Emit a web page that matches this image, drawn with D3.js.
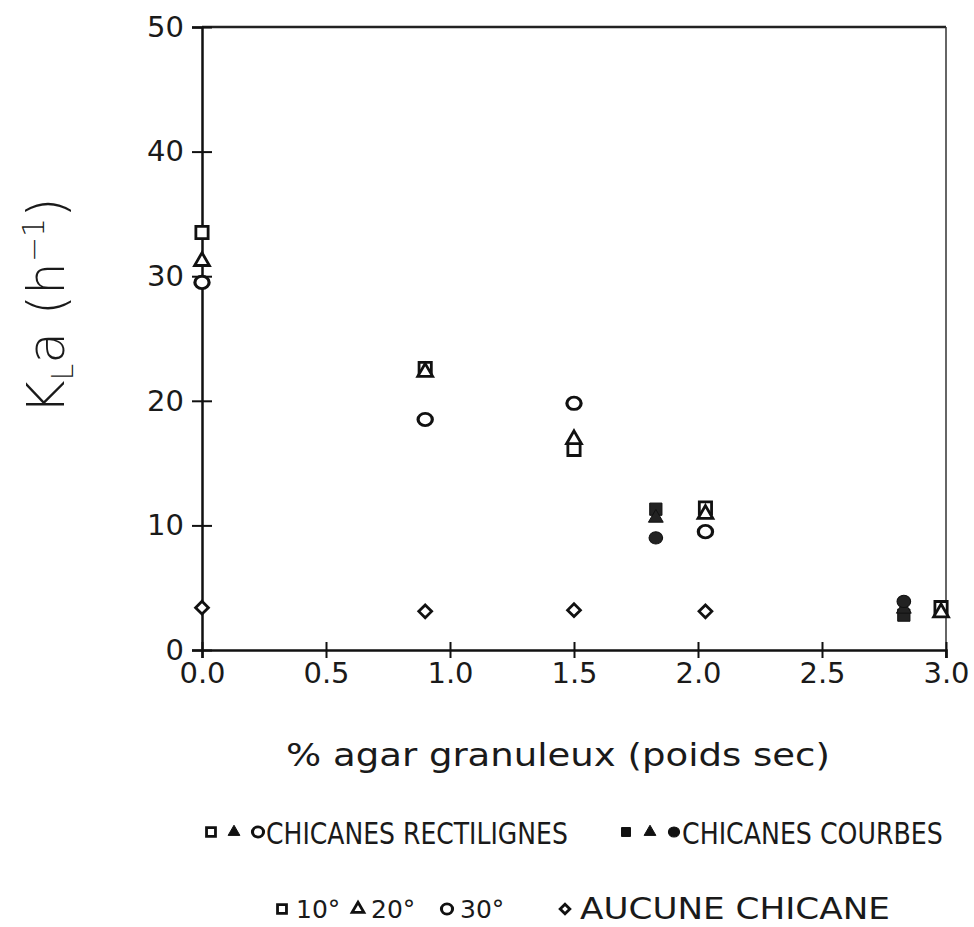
<!DOCTYPE html>
<html><head><meta charset="utf-8">
<script src="https://cdn.jsdelivr.net/npm/d3@7"></script>
<style>
body{margin:0;background:#fff;}
text{font-family:"DejaVu Sans","Liberation Sans",sans-serif;fill:#1a1a1a;}
</style></head>
<body>
<svg id="chart" width="974" height="927"></svg>
<script>
// ---- data ----
const xTicks = [0.0, 0.5, 1.0, 1.5, 2.0, 2.5, 3.0];
const yTicks = [0, 10, 20, 30, 40, 50];
// chicanes rectilignes (open symbols)
const rect10 = [[0, 33.5], [0.90, 22.6], [1.5, 16.1], [2.03, 11.4], [2.98, 3.4]];
const rect20 = [[0, 31.2], [0.90, 22.3], [1.5, 16.9], [2.03, 10.9], [2.98, 3.0]];
const rect30 = [[0, 29.5], [0.90, 18.5], [1.5, 19.8], [2.03, 9.5]];
// chicanes courbes (filled symbols)
const courb10 = [[1.83, 11.3], [2.83, 2.8]];
const courb20 = [[1.83, 10.6], [2.83, 3.3]];
const courb30 = [[1.83, 9.0], [2.83, 3.9]];
// aucune chicane
const aucune = [[0, 3.4], [0.90, 3.1], [1.5, 3.2], [2.03, 3.1]];

const legendRow1 = ["CHICANES RECTILIGNES", "CHICANES COURBES"];
const legendRow2 = ["10°", "20°", "30°", "AUCUNE CHICANE"];

// ---- layout ----
const svg = d3.select("#chart");
const x = d3.scaleLinear().domain([0, 3]).range([202, 946]);
const y = d3.scaleLinear().domain([0, 50]).range([650, 27]);

// frame
const g = svg.append("g");
g.append("line").attr("x1", x(0)).attr("x2", x(3)).attr("y1", y(50)).attr("y2", y(50))
  .attr("stroke", "#222").attr("stroke-width", 2.5);
g.append("line").attr("x1", x(3)).attr("x2", x(3)).attr("y1", y(50)).attr("y2", y(0) + 8)
  .attr("stroke", "#333").attr("stroke-width", 1.5);

const tickFont = 29;
// y axis
const yAxis = svg.append("g").attr("transform", `translate(${x(0)},0)`)
  .call(d3.axisLeft(y).tickValues(yTicks).tickFormat(d3.format("d")).tickSize(10).tickPadding(8));
yAxis.select(".domain").attr("stroke", "#111").attr("stroke-width", 2.5);
yAxis.selectAll(".tick line").attr("x2", -10).attr("x1", 10).attr("stroke", "#111").attr("stroke-width", 2);
yAxis.selectAll(".tick text").attr("font-size", tickFont).attr("fill", "#1a1a1a");

// x axis
const xAxis = svg.append("g").attr("transform", `translate(0,${y(0)})`)
  .call(d3.axisBottom(x).tickValues(xTicks).tickFormat(d3.format(".1f")).tickSize(8).tickPadding(4));
xAxis.select(".domain").attr("stroke", "#111").attr("stroke-width", 2.5);
xAxis.selectAll(".tick line").attr("y1", -8).attr("y2", 8).attr("stroke", "#111").attr("stroke-width", 2);
xAxis.selectAll(".tick text").attr("font-size", tickFont).attr("fill", "#1a1a1a");

// text fitted horizontally to a width by a scale transform
function fitText(xp, yp, s, size, w) {
  const t = svg.append("text").attr("font-size", size).text(s);
  const L = t.node().getComputedTextLength();
  t.attr("transform", `translate(${xp},${yp}) scale(${w / L},1)`);
  return t;
}
function plainText(xp, yp, s, size) {
  return svg.append("text").attr("x", xp).attr("y", yp).attr("font-size", size).text(s);
}

// axis titles
fitText(286, 766, "% agar granuleux (poids sec)", 32, 544);

const yl = svg.append("text").attr("transform", "translate(64,306) rotate(-90)")
  .attr("text-anchor", "middle").attr("font-size", 52).attr("font-weight", 200);
yl.append("tspan").text("K");
yl.append("tspan").attr("font-size", 30).attr("dy", 9).text("L");
yl.append("tspan").attr("dy", -9).text("a (h");
yl.append("tspan").attr("font-size", 30).attr("dy", -20).text("−1");
yl.append("tspan").attr("dy", 20).text(")");

// ---- symbols ----
const types = {square: d3.symbolSquare, triangle: d3.symbolTriangle, circle: d3.symbolCircle, diamond: d3.symbolDiamond2};
const sizes = {square: 150, triangle: 95, circle: 120, diamond: 105};
function plot(data, type, filled, sx) {
  svg.append("g").selectAll("path").data(data).join("path")
    .attr("d", d3.symbol().type(types[type]).size(sizes[type]))
    .attr("transform", d => `translate(${x(d[0])},${y(d[1])}) scale(${sx || 1},1)`)
    .attr("fill", filled ? "#222" : "#fff")
    .attr("stroke", "#111").attr("stroke-width", filled ? 1 : 2.8);
}
plot(rect10, "square", false);
plot(rect20, "triangle", false);
plot(rect30, "circle", false, 1.15);
plot(courb10, "square", true);
plot(courb20, "triangle", true);
plot(courb30, "circle", true, 1.1);
plot(aucune, "diamond", false);

// ---- legend ----
function legSym(cx, cy, type, filled, sx) {
  svg.append("path").attr("d", d3.symbol().type(types[type])
      .size(type === "triangle" ? 60 : type === "diamond" ? 60 : 80))
    .attr("transform", `translate(${cx},${cy}) scale(${sx || 1},1)`)
    .attr("fill", filled ? "#111" : "#fff").attr("stroke", "#111").attr("stroke-width", filled ? 1 : 2.8);
}
const r1 = 832, r2 = 909;
legSym(211, r1, "square", false);
legSym(234, r1, "triangle", true);
legSym(258, r1, "circle", false, 1.1);
fitText(266, r1 + 12, legendRow1[0], 31, 302);
legSym(626, r1, "square", true);
legSym(650, r1, "triangle", true);
legSym(674, r1, "circle", true, 1.1);
fitText(682, r1 + 12, legendRow1[1], 31, 261);

legSym(282, r2, "square", false);
plainText(296, r2 + 9, legendRow2[0], 25);
legSym(358, r2, "triangle", false);
plainText(371, r2 + 9, legendRow2[1], 25);
legSym(447, r2, "circle", false, 1.1);
plainText(460, r2 + 9, legendRow2[2], 25);
legSym(565, r2, "diamond", false);
fitText(580, r2 + 10, legendRow2[3], 30, 310);
</script>
</body></html>
